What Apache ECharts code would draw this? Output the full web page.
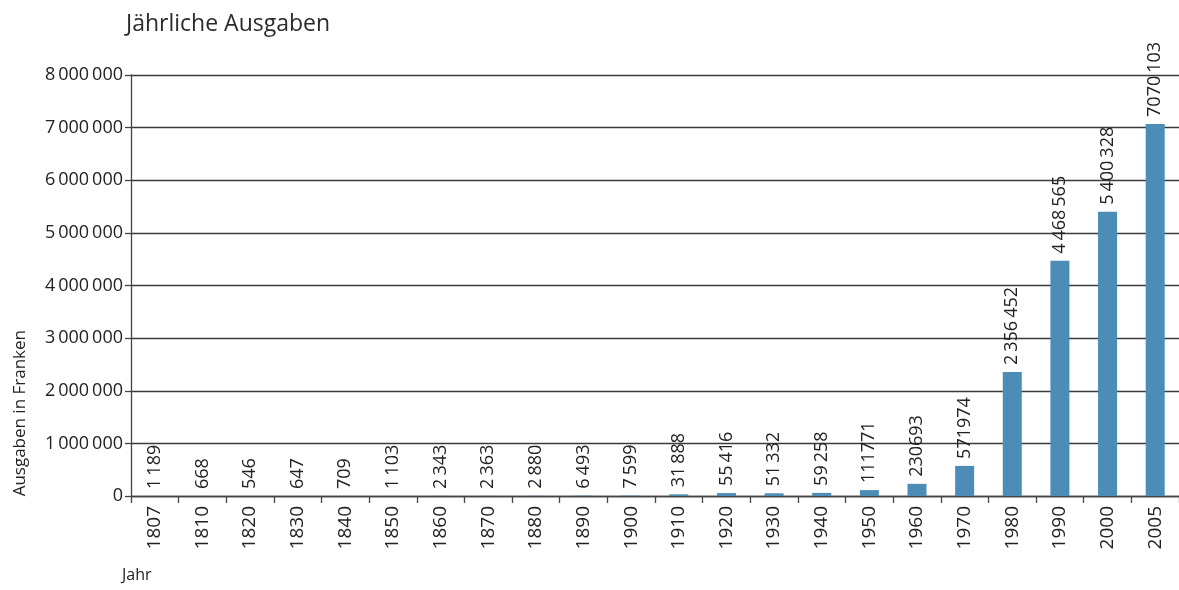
<!DOCTYPE html>
<html><head><meta charset="utf-8">
<script src="https://cdn.jsdelivr.net/npm/echarts@6/dist/echarts.min.js"></script>
<style>html,body{margin:0;padding:0;background:#fff}#c{width:1179px;height:590px}</style>
</head><body><div id="c"></div>
<script>
const years = ['1807','1810','1820','1830','1840','1850','1860','1870','1880','1890','1900','1910','1920','1930','1940','1950','1960','1970','1980','1990','2000','2005'];
const expenses = [1189,668,546,647,709,1103,2343,2363,2880,6493,7599,31888,55416,51332,59258,111771,230693,571974,2356452,4468565,5400328,7070103];
const valueLabels = ['1\u2009189','668','546','647','709','1\u2009103','2\u2009343','2\u2009363','2\u2009880','6\u2009493','7\u2009599','31\u2009888','55\u2009416','51\u2009332','59\u2009258','111771','230693','571974','2\u2009356\u2009452','4\u2009468\u2009565','5\u2009400\u2009328','7070\u2009103'];
const yTicks = ['0','1\u2009000\u2009000','2\u2009000\u2009000','3\u2009000\u2009000','4\u2009000\u2009000','5\u2009000\u2009000','6\u2009000\u2009000','7\u2009000\u2009000','8\u2009000\u2009000'];

const FONT = '"Open Sans", "Noto Sans", sans-serif';
const TXT = '#222';
const chart = echarts.init(document.getElementById('c'), null, {renderer:'canvas'});
chart.setOption({
  animation: false,
  title: {text: 'Jährliche Ausgaben', left: 121, top: 8,
    textStyle: {fontFamily: FONT, fontSize: 23, fontWeight: 'normal', color: '#2a2a2a'}},
  grid: {left: 131, right: -4, top: 75, bottom: 94, containLabel: false},
  xAxis: {
    type: 'category', data: years, boundaryGap: true,
    axisLine: {show: true, lineStyle: {color: '#444', width: 1.3}},
    axisTick: {show: true, length: 7, lineStyle: {color: '#444', width: 1.3}},
    axisLabel: {rotate: 90, margin: 10, fontFamily: FONT, fontSize: 19, color: TXT, interval: 0}
  },
  yAxis: {
    type: 'value', min: 0, max: 8000000, interval: 1000000,
    axisLine: {show: true, lineStyle: {color: '#444', width: 1.3}},
    axisTick: {show: true, length: 6, lineStyle: {color: '#444', width: 1.3}},
    splitLine: {show: true, lineStyle: {color: '#3a3a3a', width: 1.3}},
    axisLabel: {margin: 8, fontFamily: FONT, fontSize: 18, color: TXT,
      formatter: (v) => yTicks[Math.round(v / 1000000)]}
  },
  graphic: [
    {type: 'text', left: 12, top: 330, rotation: Math.PI / 2,
      style: {text: 'Ausgaben in Franken', font: '17px ' + FONT, fill: TXT}},
    {type: 'text', left: 122, top: 567,
      style: {text: 'Jahr', font: '16px ' + FONT, fill: TXT}}
  ],
  series: [{
    type: 'bar', data: expenses, barWidth: 19,
    itemStyle: {color: '#4b8db6'},
    label: {show: true, position: 'top', rotate: 90, align: 'left', verticalAlign: 'middle', distance: 7,
      fontFamily: FONT, fontSize: 18, color: TXT,
      formatter: (p) => valueLabels[p.dataIndex]}
  }]
});
</script></body></html>
